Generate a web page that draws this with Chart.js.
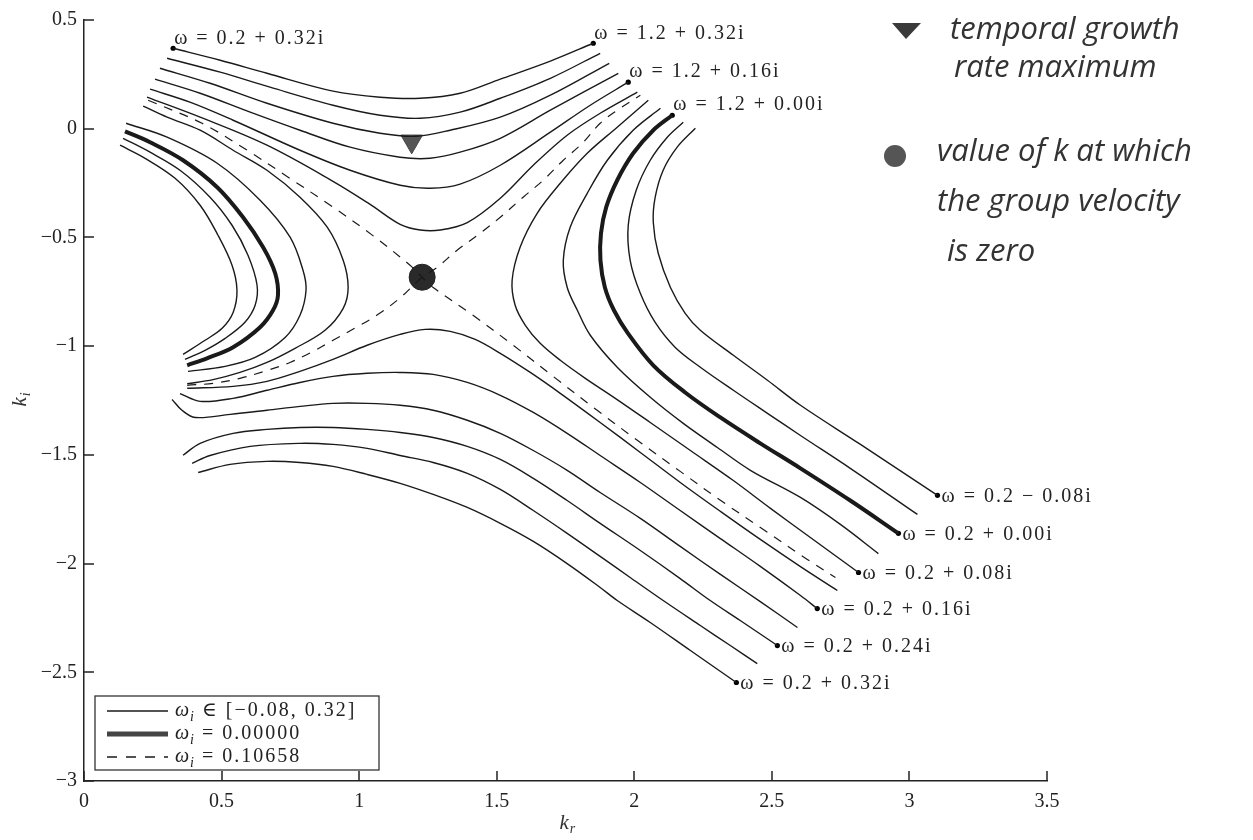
<!DOCTYPE html>
<html>
<head>
<meta charset="utf-8">
<script src="https://cdn.jsdelivr.net/npm/chart.js@4.4.1/dist/chart.umd.min.js"></script>
<style>
  html, body { margin: 0; padding: 0; background: #fff; }
</style>
</head>
<body>
<canvas id="myChart" width="1253" height="840"></canvas>
<script>
// Eixos
const xTicks = [0, 0.5, 1, 1.5, 2, 2.5, 3, 3.5]
const yTicks = [-3, -2.5, -2, -1.5, -1, -0.5, 0, 0.5]

// Curvas de omega_i constante, pares [k_r, k_i]
// Ramo superior (omega_i > 0.10658)
const upper032 = [[0.324,0.370],[0.495,0.315],[0.665,0.255],[0.905,0.173],[1.076,0.145],[1.222,0.140],[1.367,0.163],[1.513,0.228],[1.695,0.311],[1.851,0.393]]
const upper028 = [[0.302,0.324],[0.495,0.260],[0.676,0.191],[0.905,0.108],[1.076,0.062],[1.222,0.048],[1.367,0.076],[1.513,0.140],[1.695,0.232],[1.876,0.347]]
const upper024 = [[0.276,0.278],[0.458,0.209],[0.665,0.117],[0.905,0.025],[1.076,-0.021],[1.204,-0.035],[1.331,-0.007],[1.513,0.053],[1.695,0.154],[1.909,0.301]]
const upper020 = [[0.258,0.228],[0.422,0.163],[0.604,0.076],[0.785,-0.007],[0.967,-0.085],[1.149,-0.131],[1.258,-0.136],[1.367,-0.108],[1.513,-0.044],[1.695,0.085],[1.942,0.255]]
const upper016 = [[0.240,0.182],[0.385,0.122],[0.542,0.039],[0.785,-0.099],[0.967,-0.191],[1.149,-0.260],[1.258,-0.274],[1.367,-0.255],[1.513,-0.168],[1.695,-0.016],[1.840,0.108],[1.978,0.214]]
const upper012 = [[0.229,0.145],[0.422,0.053],[0.665,-0.076],[0.905,-0.242],[1.040,-0.348],[1.149,-0.440],[1.222,-0.466],[1.295,-0.466],[1.393,-0.432],[1.513,-0.320],[1.633,-0.168],[1.756,-0.030],[1.876,0.071],[2.011,0.168]]

// Ramo inferior (omega_i > 0.10658)
const lower012 = [[0.375,-1.194],[0.542,-1.185],[0.665,-1.162],[0.785,-1.116],[0.905,-1.061],[1.029,-0.996],[1.149,-0.946],[1.240,-0.923],[1.331,-0.932],[1.422,-0.969],[1.513,-1.033],[1.622,-1.121],[1.731,-1.217],[1.876,-1.351],[2.022,-1.489],[2.167,-1.627],[2.313,-1.760],[2.458,-1.889],[2.604,-2.014],[2.738,-2.124]]
const lower016 = [[0.349,-1.218],[0.422,-1.254],[0.542,-1.240],[0.665,-1.203],[0.785,-1.167],[0.905,-1.139],[1.029,-1.125],[1.149,-1.121],[1.269,-1.130],[1.393,-1.167],[1.513,-1.226],[1.633,-1.305],[1.756,-1.401],[1.876,-1.503],[2.022,-1.627],[2.167,-1.756],[2.313,-1.885],[2.458,-2.013],[2.604,-2.147],[2.665,-2.207]]
const lower020 = [[0.320,-1.245],[0.356,-1.295],[0.404,-1.328],[0.531,-1.314],[0.665,-1.295],[0.785,-1.277],[0.905,-1.263],[1.029,-1.263],[1.149,-1.272],[1.269,-1.295],[1.393,-1.341],[1.513,-1.401],[1.633,-1.480],[1.756,-1.571],[1.876,-1.673],[2.022,-1.792],[2.167,-1.921],[2.313,-2.050],[2.458,-2.175],[2.593,-2.294]]
const lower024 = [[0.360,-1.502],[0.422,-1.447],[0.542,-1.401],[0.665,-1.383],[0.785,-1.374],[0.905,-1.374],[1.029,-1.383],[1.149,-1.397],[1.269,-1.420],[1.393,-1.461],[1.513,-1.521],[1.633,-1.608],[1.756,-1.710],[1.876,-1.815],[2.022,-1.940],[2.167,-2.069],[2.276,-2.170],[2.385,-2.262],[2.520,-2.377]]
const lower028 = [[0.393,-1.539],[0.458,-1.503],[0.604,-1.461],[0.785,-1.447],[0.905,-1.452],[1.029,-1.470],[1.149,-1.503],[1.269,-1.535],[1.393,-1.585],[1.513,-1.659],[1.633,-1.756],[1.756,-1.861],[1.876,-1.967],[1.985,-2.064],[2.105,-2.170],[2.240,-2.285],[2.349,-2.377],[2.447,-2.460]]
const lower032 = [[0.415,-1.581],[0.531,-1.544],[0.665,-1.530],[0.785,-1.535],[0.905,-1.553],[1.029,-1.590],[1.149,-1.631],[1.269,-1.682],[1.393,-1.742],[1.513,-1.815],[1.633,-1.898],[1.756,-2.000],[1.876,-2.110],[1.938,-2.170],[2.058,-2.271],[2.204,-2.400],[2.371,-2.547]]

// Ramo esquerdo (omega_i < 0.10658)
const leftM008 = [[0.131,-0.076],[0.222,-0.136],[0.331,-0.228],[0.422,-0.352],[0.487,-0.490],[0.538,-0.628],[0.556,-0.743],[0.542,-0.845],[0.502,-0.918],[0.440,-0.973],[0.360,-1.038]]
const leftM004 = [[0.142,-0.044],[0.240,-0.108],[0.349,-0.191],[0.458,-0.315],[0.538,-0.444],[0.596,-0.582],[0.629,-0.720],[0.622,-0.812],[0.585,-0.890],[0.513,-0.964],[0.440,-1.019],[0.367,-1.061]]
const left000 = [[0.149,-0.012],[0.240,-0.062],[0.360,-0.145],[0.484,-0.269],[0.578,-0.407],[0.651,-0.545],[0.695,-0.665],[0.705,-0.766],[0.687,-0.835],[0.640,-0.913],[0.542,-1.005],[0.447,-1.056],[0.375,-1.088]]
const left004 = [[0.153,0.025],[0.302,-0.039],[0.484,-0.159],[0.640,-0.329],[0.749,-0.499],[0.796,-0.651],[0.807,-0.743],[0.785,-0.858],[0.731,-0.960],[0.622,-1.052],[0.513,-1.093],[0.378,-1.116]]
const left008 = [[0.215,0.104],[0.302,0.053],[0.422,-0.007],[0.542,-0.099],[0.665,-0.191],[0.785,-0.315],[0.884,-0.453],[0.942,-0.605],[0.960,-0.730],[0.942,-0.826],[0.876,-0.927],[0.767,-1.010],[0.665,-1.075],[0.567,-1.121],[0.469,-1.154],[0.375,-1.173]]

// Ramo direito (omega_i < 0.10658)
const rightM008 = [[2.222,0.002],[2.156,-0.085],[2.105,-0.191],[2.076,-0.315],[2.069,-0.430],[2.087,-0.573],[2.131,-0.729],[2.185,-0.849],[2.240,-0.927],[2.360,-1.042],[2.484,-1.157],[2.604,-1.272],[2.822,-1.452],[3.102,-1.686]]
const rightM004 = [[2.178,0.030],[2.120,-0.039],[2.058,-0.145],[2.007,-0.283],[1.978,-0.444],[1.985,-0.605],[2.022,-0.757],[2.076,-0.891],[2.149,-1.006],[2.240,-1.097],[2.360,-1.203],[2.484,-1.309],[2.604,-1.411],[2.785,-1.562],[3.029,-1.774]]
const right000 = [[2.138,0.062],[2.069,-0.007],[1.996,-0.113],[1.938,-0.237],[1.898,-0.361],[1.879,-0.481],[1.877,-0.605],[1.893,-0.729],[1.926,-0.835],[1.977,-0.941],[2.069,-1.088],[2.185,-1.213],[2.313,-1.328],[2.458,-1.447],[2.604,-1.562],[2.785,-1.710],[2.960,-1.861]]
const right004 = [[2.095,0.094],[1.996,-0.007],[1.902,-0.145],[1.829,-0.297],[1.767,-0.453],[1.742,-0.605],[1.756,-0.729],[1.793,-0.835],[1.840,-0.950],[1.938,-1.097],[2.058,-1.235],[2.178,-1.355],[2.302,-1.466],[2.422,-1.571],[2.604,-1.696],[2.749,-1.820],[2.887,-1.954]]
const right008 = [[2.051,0.131],[1.938,0.007],[1.829,-0.113],[1.731,-0.251],[1.647,-0.389],[1.585,-0.545],[1.556,-0.697],[1.567,-0.812],[1.604,-0.904],[1.658,-0.987],[1.731,-1.065],[1.822,-1.148],[1.931,-1.240],[2.058,-1.351],[2.204,-1.480],[2.360,-1.618],[2.495,-1.746],[2.640,-1.880],[2.815,-2.041]]

// Curva de sela omega_i = 0.10658 (tracejada)
const saddleA = [[0.233,0.131],[0.429,0.025],[0.593,-0.099],[0.742,-0.223],[0.895,-0.352],[1.044,-0.486],[1.185,-0.628],[1.229,-0.683],[1.269,-0.730],[1.415,-0.859],[1.560,-0.996],[1.705,-1.139],[1.865,-1.295],[2.011,-1.433],[2.167,-1.576],[2.313,-1.709],[2.469,-1.843],[2.629,-1.981],[2.731,-2.064]]
const saddleB = [[0.375,-1.180],[0.469,-1.171],[0.567,-1.148],[0.665,-1.112],[0.749,-1.075],[0.822,-1.031],[0.905,-0.973],[0.985,-0.917],[1.065,-0.857],[1.149,-0.778],[1.229,-0.683],[1.284,-0.637],[1.356,-0.559],[1.440,-0.481],[1.513,-0.407],[1.596,-0.315],[1.669,-0.237],[1.742,-0.145],[1.811,-0.067],[1.876,0.025],[1.938,0.085],[2.022,0.154]]

// Marcadores
const growthMax = [1.191, -0.058]
const zeroGroupVelocity = [1.229, -0.683]

// Rótulos das extremidades
const topLabels = ['ω = 0.2 + 0.32i', 'ω = 1.2 + 0.32i', 'ω = 1.2 + 0.16i', 'ω = 1.2 + 0.00i']
const topEnds = [upper032[0], upper032[upper032.length - 1], upper016[upper016.length - 1], right000[0]]
const bottomLabels = ['ω = 0.2 − 0.08i', 'ω = 0.2 + 0.00i', 'ω = 0.2 + 0.08i', 'ω = 0.2 + 0.16i', 'ω = 0.2 + 0.24i', 'ω = 0.2 + 0.32i']
const bottomEnds = [rightM008, right000, right008, lower016, lower024, lower032].map(c => c[c.length - 1])

const legendLabels = [' ∈ [−0.08, 0.32]', ' = 0.00000', ' = 0.10658']
const noteLines = [['temporal growth', 'rate maximum'], ['value of k at which', 'the group velocity', 'is zero']]

const INK = '#1a1a1a'
const SERIF = '"Liberation Serif", "DejaVu Serif", serif'

const toPts = arr => arr.map(([x, y]) => ({ x, y }))

function curve(arr, width, dash) {
  return {
    data: toPts(arr),
    showLine: true,
    borderColor: INK,
    borderWidth: width,
    borderDash: dash || [],
    pointRadius: 0,
    tension: 0.35,
    fill: false
  }
}

const thin = [upper032, upper028, upper024, upper020, upper016, upper012,
  lower012, lower016, lower020, lower024, lower028, lower032,
  leftM008, leftM004, left004, left008,
  rightM008, rightM004, right004, right008]

const datasets = [
  ...thin.map(c => curve(c, 1.4)),
  curve(saddleA, 1.2, [9, 8]),
  curve(saddleB, 1.2, [9, 8]),
  curve(left000, 4),
  curve(right000, 4),
  {
    data: toPts([growthMax]),
    pointStyle: 'triangle',
    pointRotation: 180,
    pointRadius: 12.5,
    pointBackgroundColor: '#555',
    pointBorderColor: '#444',
    pointBorderWidth: 1
  },
  {
    data: toPts([zeroGroupVelocity]),
    pointStyle: 'circle',
    pointRadius: 13,
    pointBackgroundColor: '#2a2a2a',
    pointBorderColor: '#222',
    pointBorderWidth: 1
  },
  {
    data: toPts([...topEnds, ...bottomEnds]),
    pointRadius: 2.6,
    pointBackgroundColor: '#000',
    pointBorderWidth: 0
  }
]

const fmtTick = v => (v < 0 ? '−' : '') + Math.abs(v)

// Marcas de escala para dentro
const innerTicks = {
  id: 'innerTicks',
  afterDraw(chart) {
    const { ctx, chartArea, scales } = chart
    ctx.save()
    ctx.strokeStyle = '#222'
    ctx.lineWidth = 1.5
    xTicks.forEach(v => {
      const px = Math.round(scales.x.getPixelForValue(v))
      ctx.beginPath()
      ctx.moveTo(px, chartArea.bottom)
      ctx.lineTo(px, chartArea.bottom - 10)
      ctx.stroke()
    })
    yTicks.forEach(v => {
      const py = Math.round(scales.y.getPixelForValue(v))
      ctx.beginPath()
      ctx.moveTo(chartArea.left, py)
      ctx.lineTo(chartArea.left + 10, py)
      ctx.stroke()
    })
    ctx.restore()
  }
}

// Texto com omega e subscrito
function drawSub(ctx, base, sub, x, y, size) {
  ctx.font = `italic ${size}px ${SERIF}`
  ctx.fillText(base, x, y)
  const w = ctx.measureText(base).width
  ctx.font = `italic ${Math.round(size * 0.68)}px ${SERIF}`
  ctx.fillText(sub, x + w + 1, y + size * 0.3)
  return w + ctx.measureText(sub).width + 2
}

const curveLabels = {
  id: 'curveLabels',
  afterDatasetsDraw(chart) {
    const { ctx, scales } = chart
    ctx.save()
    ctx.fillStyle = '#222'
    ctx.font = `20px ${SERIF}`
    ctx.letterSpacing = '2px'
    ctx.textBaseline = 'middle'
    topLabels.forEach((t, i) => {
      const px = scales.x.getPixelForValue(topEnds[i][0])
      const py = scales.y.getPixelForValue(topEnds[i][1])
      ctx.fillText(t, px + 1, py - 10)
    })
    ctx.beginPath()
    ctx.rect(0, 0, 1097, 840)
    ctx.clip()
    bottomLabels.forEach((t, i) => {
      const px = scales.x.getPixelForValue(bottomEnds[i][0])
      const py = scales.y.getPixelForValue(bottomEnds[i][1])
      ctx.fillText(t, px + 4, py + 1)
    })
    ctx.restore()
  }
}

const legendBox = {
  id: 'legendBox',
  afterDraw(chart) {
    const { ctx, chartArea } = chart
    const bx = chartArea.left + 11
    const by = chartArea.bottom - 85
    ctx.save()
    ctx.fillStyle = '#fff'
    ctx.fillRect(bx, by, 284, 74)
    ctx.strokeStyle = '#333'
    ctx.lineWidth = 1.3
    ctx.strokeRect(bx, by, 284, 74)
    const rows = [by + 15, by + 38, by + 61]
    const styles = [[1.3, [], INK], [5, [], '#444'], [1.3, [10, 9], INK]]
    rows.forEach((ry, i) => {
      ctx.strokeStyle = styles[i][2]
      ctx.lineWidth = styles[i][0]
      ctx.setLineDash(styles[i][1])
      ctx.beginPath()
      ctx.moveTo(bx + 12, ry)
      ctx.lineTo(bx + 73, ry)
      ctx.stroke()
      ctx.setLineDash([])
      ctx.fillStyle = '#222'
      ctx.textBaseline = 'middle'
      ctx.letterSpacing = '0px'
      const w = drawSub(ctx, 'ω', 'i', bx + 80, ry, 20)
      ctx.font = `20px ${SERIF}`
      ctx.letterSpacing = '2px'
      ctx.fillText(legendLabels[i], bx + 80 + w, ry)
    })
    ctx.restore()
  }
}

const axisTitles = {
  id: 'axisTitles',
  afterDraw(chart) {
    const { ctx, chartArea } = chart
    ctx.save()
    ctx.fillStyle = '#333'
    ctx.textBaseline = 'middle'
    const cx = (chartArea.left + chartArea.right) / 2
    drawSub(ctx, 'k', 'r', cx - 6, 823, 21)
    ctx.translate(20, (chartArea.top + chartArea.bottom) / 2)
    ctx.rotate(-Math.PI / 2)
    drawSub(ctx, 'k', 'i', -6, 0, 21)
    ctx.restore()
  }
}

// Anotações manuscritas
const notes = {
  id: 'notes',
  afterDraw(chart) {
    const { ctx } = chart
    ctx.save()
    ctx.fillStyle = '#3a3a3a'
    ctx.beginPath()
    ctx.moveTo(892, 23)
    ctx.lineTo(921, 23)
    ctx.lineTo(906, 39)
    ctx.closePath()
    ctx.fill()
    ctx.fillStyle = '#555'
    ctx.beginPath()
    ctx.arc(895, 156, 11, 0, Math.PI * 2)
    ctx.fill()
    ctx.fillStyle = '#333'
    ctx.font = 'italic 31px "Open Sans", "DejaVu Sans", sans-serif'
    ctx.textBaseline = 'middle'
    noteLines[0].forEach((t, i) => ctx.fillText(t, 950 + i * 4, 30 + i * 38))
    noteLines[1].forEach((t, i) => ctx.fillText(t, 937 + (i === 2 ? 10 : 0), 152 + i * 50))
    ctx.restore()
  }
}

const ctx = document.getElementById('myChart').getContext('2d')

new Chart(ctx, {
  type: 'scatter',
  data: { datasets },
  options: {
    responsive: false,
    animation: false,
    events: [],
    layout: { padding: { top: 20, right: 206, left: 0, bottom: 0 } },
    plugins: { legend: { display: false }, tooltip: { enabled: false } },
    scales: {
      x: {
        type: 'linear',
        min: xTicks[0],
        max: xTicks[xTicks.length - 1],
        afterBuildTicks: s => { s.ticks = xTicks.map(v => ({ value: v })) },
        afterFit: s => { s.height = 59 },
        grid: { display: false, drawTicks: false },
        border: { display: true, color: '#222', width: 1.5 },
        ticks: {
          color: '#222',
          font: { family: SERIF, size: 20 },
          padding: 9,
          maxRotation: 0,
          autoSkip: false,
          callback: fmtTick
        }
      },
      y: {
        type: 'linear',
        min: yTicks[0],
        max: yTicks[yTicks.length - 1],
        afterBuildTicks: s => { s.ticks = yTicks.map(v => ({ value: v })) },
        afterFit: s => { s.width = 84 },
        grid: { display: false, drawTicks: false },
        border: { display: true, color: '#222', width: 1.5 },
        ticks: {
          color: '#222',
          font: { family: SERIF, size: 20 },
          padding: 7,
          autoSkip: false,
          callback: fmtTick
        }
      }
    }
  },
  plugins: [innerTicks, curveLabels, legendBox, axisTitles, notes]
})
</script>
</body>
</html>
